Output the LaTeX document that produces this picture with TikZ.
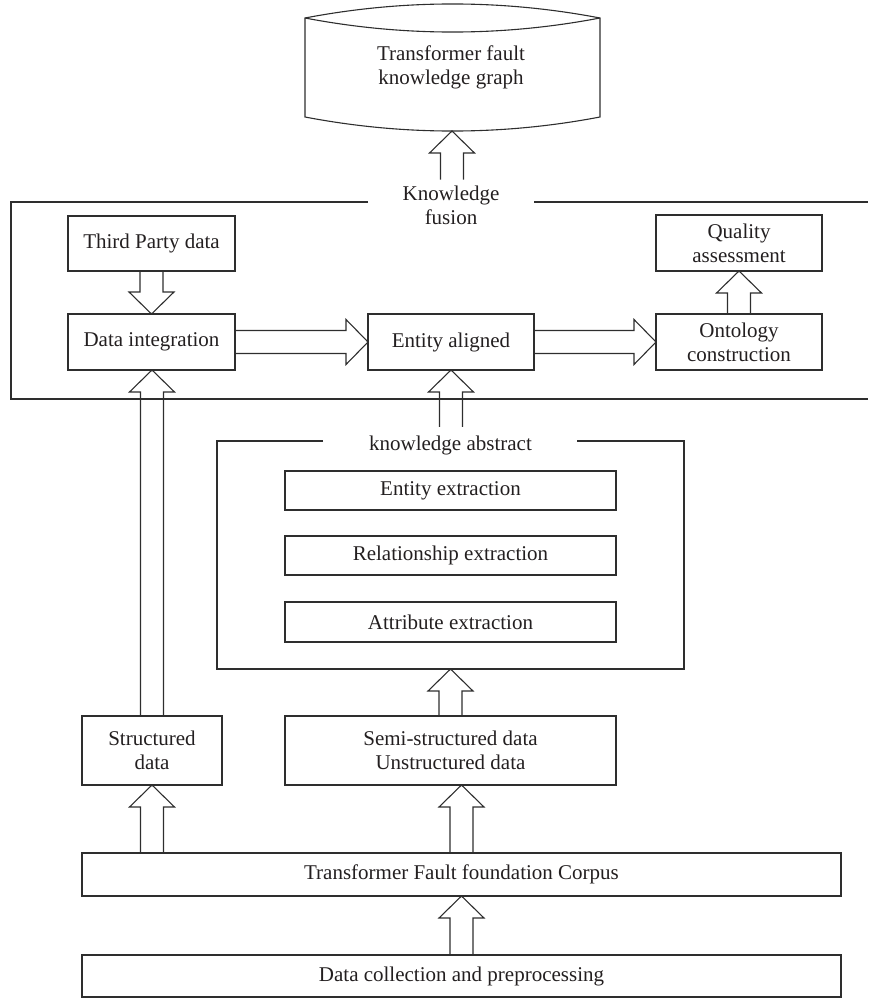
\documentclass[tikz,border=0pt]{standalone}
\usepackage{fontspec}
\setmainfont{Liberation Serif}
\usetikzlibrary{calc}
\definecolor{ln}{HTML}{2E2E2E}
\definecolor{tx}{HTML}{231F20}
\tikzset{
  box/.style={draw=ln, line width=1.1pt, outer sep=0pt, inner sep=0pt, align=center, text=tx, font=\fontsize{21}{24}\selectfont},
  lbl/.style={align=center, text=tx, font=\fontsize{21}{24}\selectfont, outer sep=0pt},
  frameline/.style={draw=ln, line width=1.1pt},
  barrow/.style={draw=ln, line width=1.1pt, line join=miter},
}
\newcommand\blockup[2]{\draw[barrow] let \p1=#1, \p2=#2 in
  (\x1-11.5pt,\y1) -- (\x1-11.5pt,\y2-22pt) -- (\x1-22.5pt,\y2-22pt) -- (\x1,\y2)
  -- (\x1+22.5pt,\y2-22pt) -- (\x1+11.5pt,\y2-22pt) -- (\x1+11.5pt,\y1);}
\newcommand\blockdown[2]{\draw[barrow] let \p1=#1, \p2=#2 in
  (\x1-11.5pt,\y1) -- (\x1-11.5pt,\y2+22pt) -- (\x1-22.5pt,\y2+22pt) -- (\x1,\y2)
  -- (\x1+22.5pt,\y2+22pt) -- (\x1+11.5pt,\y2+22pt) -- (\x1+11.5pt,\y1);}
\newcommand\blockright[2]{\draw[barrow] let \p1=#1, \p2=#2 in
  (\x1,\y1+11.5pt) -- (\x2-22pt,\y1+11.5pt) -- (\x2-22pt,\y1+22.5pt) -- (\x2,\y1)
  -- (\x2-22pt,\y1-22.5pt) -- (\x2-22pt,\y1-11.5pt) -- (\x1,\y1-11.5pt);}
\begin{document}
\begin{tikzpicture}[x=1pt,y=-1pt]
\useasboundingbox (0,0) rectangle (868,998);

% knowledge graph cylinder
\draw[frameline] (305,18) .. controls (403,-0.7) and (502,-0.7) .. (600,18) -- (600,117)
   .. controls (502,135.7) and (403,135.7) .. (305,117) -- cycle;
\draw[frameline] (305,18) .. controls (403,36.7) and (502,36.7) .. (600,18);
\node[lbl] (kg) at (451,67.7) {Transformer fault\\knowledge graph};
\coordinate (kgb) at (452,131);

% knowledge fusion frame
\draw[frameline] (368,202) -- (11,202) -- (11,399) -- (868,399);
\draw[frameline] (534,202) -- (868,202);
\node[lbl, inner sep=6.5pt] (kf) at (451,205.4) {Knowledge\\fusion};

\node[box, minimum width=167, minimum height=55] (tpd) at (151.5,243.5) {Third Party data};
\node[box, minimum width=167, minimum height=56] (dint) at (151.5,342) {Data integration};
\node[box, minimum width=166, minimum height=56] (ea) at (451,342) {Entity aligned};
\node[box, minimum width=166, minimum height=56] (onto) at (739,342) {Ontology\\construction};
\node[box, minimum width=166, minimum height=56] (qa) at (739,243) {Quality\\assessment};

% knowledge abstract frame
\draw[frameline] (323,441) -- (217,441) -- (217,669) -- (684,669) -- (684,441) -- (577,441);
\node[lbl, inner sep=8.7pt] (abl) at (450.5,445.2) {knowledge abstract};
\coordinate (absb) at (450.5,669);

\node[box, minimum width=331, minimum height=39] (ee) at (450.5,490.5) {Entity extraction};
\node[box, minimum width=331, minimum height=39] (re) at (450.5,555.5) {Relationship extraction};
\node[box, minimum width=331, minimum height=40] (ae) at (450.5,622) {Attribute extraction};

\node[box, minimum width=140, minimum height=69] (st) at (152,750.5) {Structured\\data};
\node[box, minimum width=331, minimum height=69] (semi) at (450.5,750.5) {Semi-structured data\\Unstructured data};
\node[box, minimum width=759, minimum height=43] (corpus) at (461.5,874.5) {Transformer Fault foundation Corpus};
\node[box, minimum width=759, minimum height=42] (dc) at (461.5,976) {Data collection and preprocessing};

% block arrows
\blockup{(kf.north -| kgb)}{(kgb)}
\blockdown{(tpd.south)}{(dint.north)}
\blockright{(dint.east)}{(ea.west)}
\blockright{(ea.east)}{(onto.west)}
\blockup{(onto.north)}{(qa.south)}
\blockup{(abl.north -| ea.south)}{(ea.south)}
\blockup{(st.north)}{(st.north |- dint.south)}
\blockup{(semi.north)}{(absb)}
\blockup{(corpus.north -| st.south)}{(st.south)}
\blockup{(corpus.north)}{(corpus.north |- semi.south)}
\blockup{(dc.north)}{(corpus.south)}
\end{tikzpicture}
\end{document}
